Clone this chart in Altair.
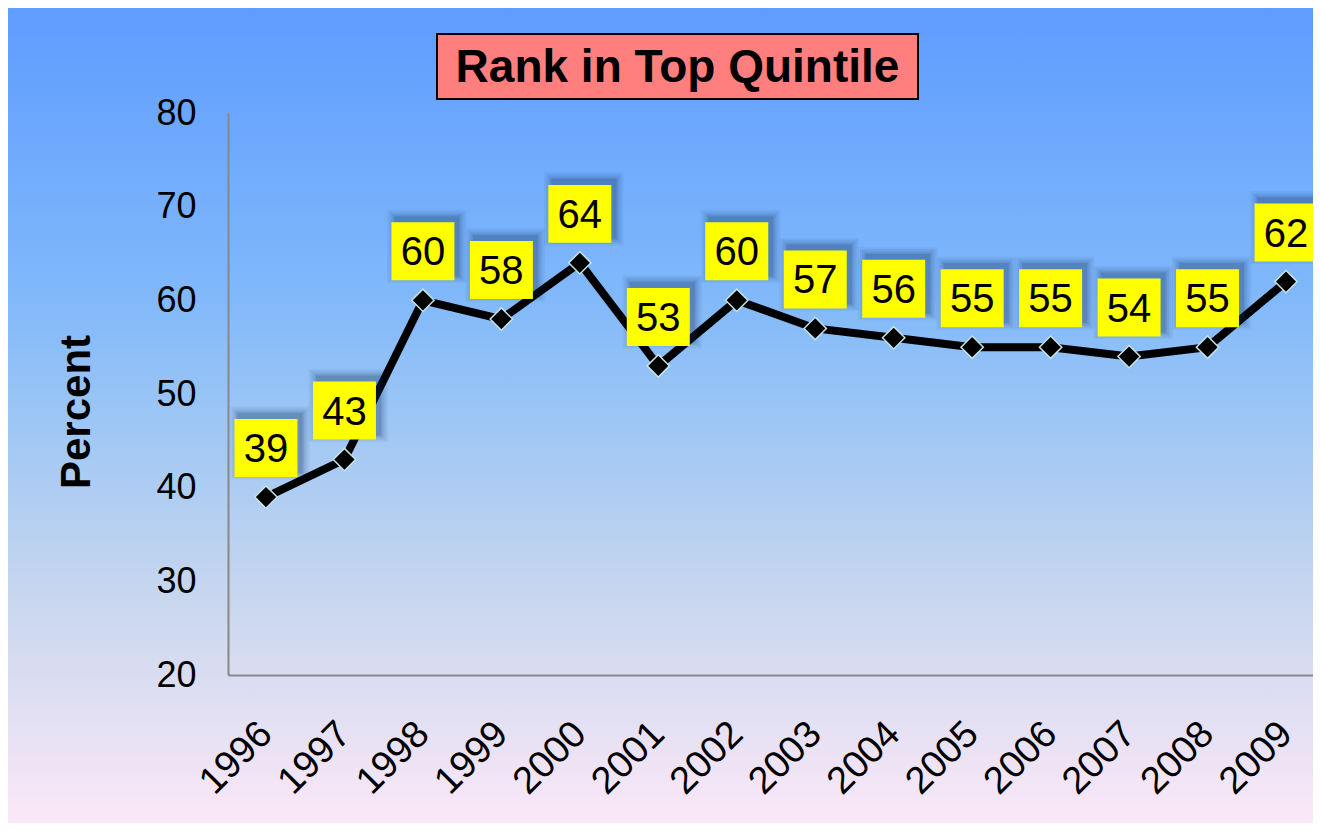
import altair as alt
import pandas as pd

years = list(range(1996, 2010))
percent = [39, 43, 60, 58, 64, 53, 60, 57, 56, 55, 55, 54, 55, 62]
y_ticks = [20, 30, 40, 50, 60, 70, 80]
title_text = "Rank in Top Quintile"
y_title = "Percent"

df = pd.DataFrame({"year": years, "percent": percent})

W, H = 1085, 562
PL, PT, PR = 220, 105, 0
PB = 815 - PT - H

FONT = "Liberation Sans"

xscale = alt.Scale(domain=[1995.516, 2009.344], nice=False, zero=False)
yscale = alt.Scale(domain=[20, 80], nice=False, zero=False)

X = alt.X(
    "year:Q",
    scale=xscale,
    axis=alt.Axis(
        values=years, format="d", labelAngle=-45, labelAlign="right", labelBaseline="middle",
        labelPadding=53, labelFontSize=38, labelFont=FONT, labelColor="black",
        ticks=False, grid=False, domainColor="#888888", domainWidth=2, title=None, zindex=1,
        labelOverlap=False,
    ),
)
Y = alt.Y(
    "percent:Q",
    scale=yscale,
    axis=alt.Axis(
        values=y_ticks, labelFontSize=36, labelFont=FONT, labelColor="black", labelPadding=32,
        ticks=False, grid=False, domainColor="#888888", domainWidth=2, zindex=1,
        title=y_title, titleFont=FONT, titleFontSize=42, titleFontWeight="bold", titleColor="black",
        titleX=-151.5, titleY=298.5, titleAngle=-90, titleAlign="center", titleBaseline="middle",
    ),
)

bg = alt.Chart(alt.Data(values=[{"k": 1}])).mark_rect(
    fill=alt.Gradient(
        gradient="linear",
        stops=[
            alt.GradientStop(color="#5e9cff", offset=0),
            alt.GradientStop(color="#80b8fa", offset=0.35),
            alt.GradientStop(color="#9cc6f5", offset=0.5),
            alt.GradientStop(color="#c9d7ee", offset=0.73),
            alt.GradientStop(color="#fbe8f8", offset=1),
        ],
        x1=0, x2=0, y1=0, y2=1,
    ),
    stroke=None,
).encode(
    x=alt.value(-PL), x2=alt.value(W + PR), y=alt.value(-PT), y2=alt.value(H + PB)
)

title_df = alt.Data(values=[{"t": title_text}])
title_box = alt.Chart(title_df).mark_rect(
    fill="#ff7f7f", stroke="black", strokeWidth=2
).encode(x=alt.value(209), x2=alt.value(690), y=alt.value(-79), y2=alt.value(-14))
title_txt = alt.Chart(title_df).mark_text(
    font=FONT, fontSize=46, fontWeight="bold", color="black", align="center", baseline="middle"
).encode(x=alt.value(449.5), y=alt.value(-45), text="t:N")

base = alt.Chart(df)

line = base.mark_line(color="black", strokeWidth=8).encode(x=X, y=Y)

pts = base.mark_point(
    shape="diamond", filled=True, size=500, fill="black", stroke="#c4e4e4", strokeWidth=1.5, opacity=1
).encode(x=X, y=Y)

BOX = "M-1,-0.92L1,-0.92L1,0.92L-1,0.92Z"
shadows = []
for s, op in [(1.26, 0.05), (1.20, 0.06), (1.14, 0.08), (1.08, 0.10), (1.03, 0.14)]:
    shadows.append(
        base.mark_point(
            shape=BOX, filled=True, size=3969 * s * s, fill="#10305a", stroke=None, opacity=op,
            xOffset=4, yOffset=-49 - 5,
        ).encode(x=X, y=Y)
    )

boxes = base.mark_point(
    shape=BOX, filled=True, size=3969, fill="#ffff00", stroke=None, opacity=1, yOffset=-49
).encode(x=X, y=Y)

labels = base.mark_text(
    font=FONT, fontSize=40, color="black", align="center", baseline="middle", yOffset=-47
).encode(x=X, y=Y, text="percent:Q")

chart = alt.layer(bg, title_box, title_txt, line, pts, *shadows, boxes, labels).properties(
    width=W, height=H,
    autosize=alt.AutoSizeParams(type="none"),
    padding={"left": PL, "top": PT, "right": PR, "bottom": PB},
    background="#5e9cff",
).configure_view(stroke=None)

chart.save("out.html", embed_options={"renderer": "svg", "actions": False})
